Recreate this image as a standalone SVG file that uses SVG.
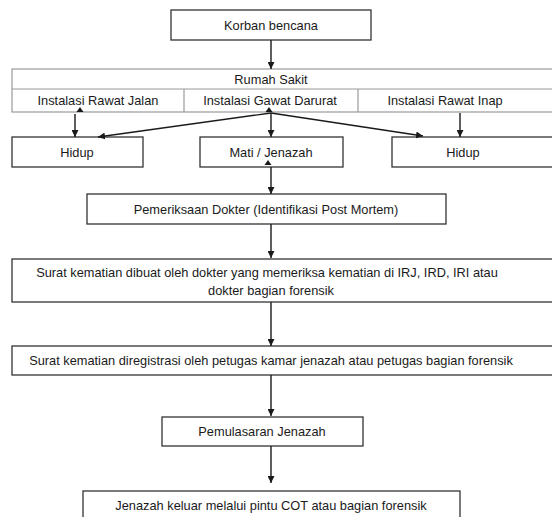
<svg xmlns="http://www.w3.org/2000/svg" width="552" height="517" viewBox="0 0 552 517">
<style>
.b{fill:#fff;stroke:#333;stroke-width:1.3}
.g{fill:#fff;stroke:#9a9a9a;stroke-width:1.2}
.gl{stroke:#9a9a9a;stroke-width:1.2;fill:none}
.t{font-family:"Liberation Sans",Arial,sans-serif;font-size:12.8px;fill:#1a1a1a;text-anchor:middle;dominant-baseline:central}
.c{stroke:#1a1a1a;stroke-width:1.4;fill:none}
.h{fill:#1a1a1a}
</style>
<defs>
<marker id="a" viewBox="0 0 10 10" refX="10" refY="5" markerWidth="7" markerHeight="7" markerUnits="userSpaceOnUse" orient="auto"><path d="M0,0 L10,5 L0,10 z" fill="#1a1a1a"/></marker>
</defs>
<rect width="552" height="517" fill="#fff"/>
<g id="korban"><rect class="b" x="171" y="10" width="200" height="30"/><text class="t" x="271" y="25">Korban bencana</text></g>
<g id="rumahsakit">
<rect class="g" x="12" y="69" width="560" height="43"/>
<line class="gl" x1="12" y1="89" x2="560" y2="89"/>
<line class="gl" x1="184" y1="89" x2="184" y2="112"/>
<line class="gl" x1="358" y1="89" x2="358" y2="112"/>
<text class="t" x="271" y="79">Rumah Sakit</text>
<text class="t" x="98" y="100">Instalasi Rawat Jalan</text>
<text class="t" x="270" y="100">Instalasi Gawat Darurat</text>
<text class="t" x="445" y="100">Instalasi Rawat Inap</text>
</g>
<g id="hidup1"><rect class="b" x="12" y="137" width="131" height="30"/><text class="t" x="77" y="152">Hidup</text></g>
<g id="mati"><rect class="b" x="200" y="137" width="143" height="30"/><text class="t" x="271" y="152">Mati / Jenazah</text></g>
<g id="hidup2"><rect class="b" x="392" y="137" width="170" height="30"/><text class="t" x="463" y="152">Hidup</text></g>
<g id="pemeriksaan"><rect class="b" x="87" y="194" width="359" height="30"/><text class="t" x="266" y="209">Pemeriksaan Dokter (Identifikasi Post Mortem)</text></g>
<g id="surat1"><rect class="b" x="12" y="259" width="551" height="43"/><text class="t" x="267" y="272">Surat kematian dibuat oleh dokter yang memeriksa kematian di IRJ, IRD, IRI atau</text><text class="t" x="271" y="290">dokter bagian forensik</text></g>
<g id="surat2"><rect class="b" x="12" y="346" width="551" height="29"/><text class="t" x="271" y="360">Surat kematian diregistrasi oleh petugas kamar jenazah atau petugas bagian forensik</text></g>
<g id="pemulasaran"><rect class="b" x="162" y="417" width="201" height="29"/><text class="t" x="262" y="431">Pemulasaran Jenazah</text></g>
<g id="keluar"><rect class="b" x="83" y="491" width="377" height="40"/><text class="t" x="271" y="505">Jenazah keluar melalui pintu COT atau bagian forensik</text></g>
<g id="connectors">
<line class="c" x1="271" y1="40" x2="271" y2="69" marker-end="url(#a)"/>
<path class="h" d="M80,107 L76.5,112 L83.5,112 z"/>
<path class="h" d="M269,107 L265.5,112 L272.5,112 z"/>
<line class="c" x1="75" y1="114" x2="75" y2="137" marker-end="url(#a)"/>
<line class="c" x1="271" y1="113" x2="98" y2="137" marker-end="url(#a)"/>
<line class="c" x1="271" y1="113" x2="423" y2="136" marker-end="url(#a)"/>
<line class="c" x1="271" y1="113" x2="271" y2="137" marker-end="url(#a)"/>
<line class="c" x1="460" y1="113" x2="460" y2="137" marker-end="url(#a)"/>
<path class="h" d="M268,160 L264.5,165 L271.5,165 z"/>
<line class="c" x1="271" y1="167" x2="271" y2="194" marker-end="url(#a)"/>
<line class="c" x1="271" y1="224" x2="271" y2="258" marker-end="url(#a)"/>
<line class="c" x1="271" y1="302" x2="271" y2="346" marker-end="url(#a)"/>
<line class="c" x1="271" y1="375" x2="271" y2="416" marker-end="url(#a)"/>
<line class="c" x1="271" y1="446" x2="271" y2="483" marker-end="url(#a)"/>
</g>
</svg>
